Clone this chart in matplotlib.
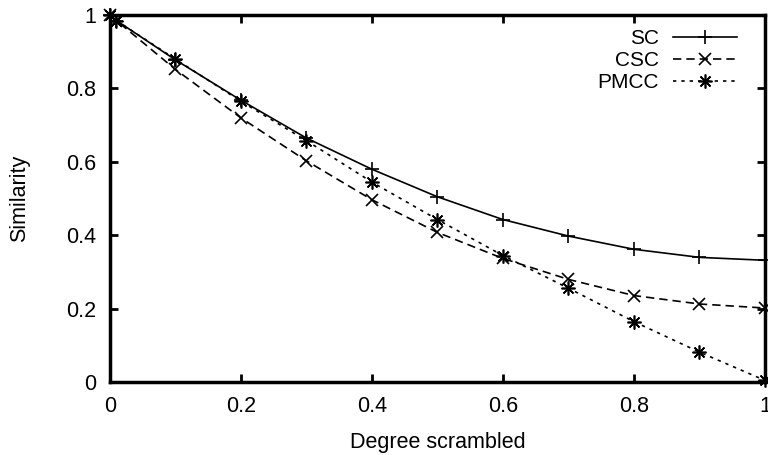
import matplotlib
matplotlib.use("Agg")
import matplotlib.pyplot as plt
from matplotlib.ticker import FuncFormatter

plt.rcParams['font.family'] = ['Liberation Sans', 'DejaVu Sans']

x = [0, 0.01, 0.1, 0.2, 0.3, 0.4, 0.5, 0.6, 0.7, 0.8, 0.9, 1.0]
sc = [1.0, 0.985, 0.878, 0.768, 0.665, 0.580, 0.505, 0.443, 0.398, 0.362, 0.340, 0.332]
csc = [1.0, 0.985, 0.852, 0.720, 0.603, 0.497, 0.408, 0.337, 0.280, 0.236, 0.213, 0.202]
pmcc = [1.0, 0.985, 0.880, 0.765, 0.658, 0.545, 0.443, 0.345, 0.256, 0.165, 0.082, 0.005]
ticks = [0, 0.2, 0.4, 0.6, 0.8, 1.0]

fig = plt.figure(figsize=(7.68, 4.55), dpi=100)
ax = fig.add_axes([0.143, 0.160, 0.853, 0.807])

ax.plot(x, sc, color='black', lw=1.2, marker='+', ms=10, mew=1.2, label='SC', clip_on=False)
ax.plot(x, csc, color='black', lw=1.2, ls=(0, (5, 3)), marker='x', ms=8, mew=1.2, label='CSC', clip_on=False)
ax.plot(x, pmcc, color='black', lw=1.2, ls=(0, (2, 3)), marker=(8, 2, 0), ms=10, mew=1.2, label='PMCC', clip_on=False)

ax.set_xlim(0, 1)
ax.set_ylim(0, 1)
ax.set_xticks(ticks)
ax.set_yticks(ticks)
fmt = FuncFormatter(lambda v, p: '%g' % v)
ax.xaxis.set_major_formatter(fmt)
ax.yaxis.set_major_formatter(fmt)
ax.tick_params(direction='in', length=6, width=2, labelsize=15.5, top=True, right=True, pad=10)
for s in ax.spines.values():
    s.set_linewidth(2.5)

ax.set_xlabel('Degree scrambled', fontsize=15.5, labelpad=11)
ax.set_ylabel('Similarity', fontsize=15.5, labelpad=26)

ax.legend(loc='upper right', bbox_to_anchor=(0.970, 0.984), frameon=False, markerfirst=False,
          fontsize=15, handlelength=3.08, borderaxespad=0, labelspacing=0.15, handletextpad=0.67)

fig.savefig('out.png', dpi=100)
